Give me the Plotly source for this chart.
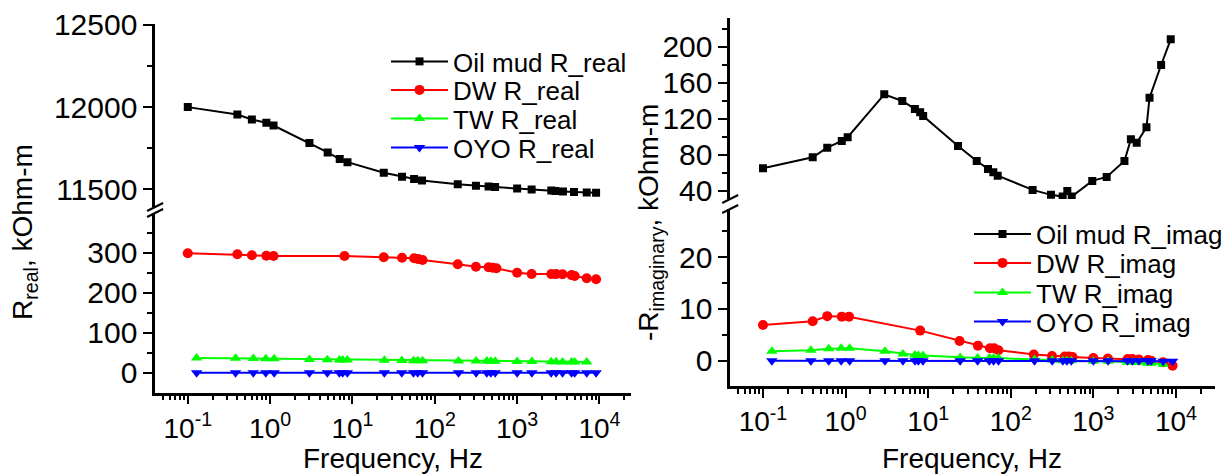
import plotly.graph_objects as go

W, H = 1226, 475


def px_x(x):
    return x / W


def px_y(y):
    return 1 - y / H


# ---------------- data ----------------
# Left panel: real part
f_oil_real = [0.1, 0.4, 0.6, 0.9, 1.1, 3, 5, 7, 8.7, 24, 40, 56, 70, 190, 316, 450, 540,
              1000, 1500, 2600, 2900, 3600, 4900, 7000, 9100]
r_oil_real = [12000, 11955, 11925, 11905, 11888, 11781, 11724, 11684, 11665, 11600, 11576,
              11562, 11553, 11531, 11521, 11517, 11513, 11505, 11498, 11492, 11489, 11486,
              11483, 11480, 11479]

f_dw = [0.1, 0.4, 0.6, 0.9, 1.1, 8, 24, 40, 56, 63, 71, 190, 316, 450, 505, 560,
        1000, 1500, 2600, 2970, 3560, 4580, 5000, 7000, 9100]
r_dw_real = [298.5, 296, 293.5, 292.5, 291.7, 291.7, 288.5, 287.5, 286, 284, 281.7, 271,
             265, 263.5, 262.5, 261, 250, 246.7, 246.5, 246.5, 246, 244, 241.7, 236, 233.5]

f_tw = [0.128, 0.38, 0.625, 0.885, 1.12, 3, 4.95, 6.93, 7.6, 8.66, 24.4, 39.7, 55, 62, 71,
        194, 318, 428, 479, 541, 1000, 1510, 2590, 2970, 3560, 4580, 5000, 7000]
r_tw_real = [37, 36, 35.5, 35, 35, 33, 32.5, 32, 32, 32, 31, 30.5, 30, 30, 30, 29.5, 29, 29,
             28.5, 28.5, 28, 28, 27.5, 27.5, 27, 27, 27, 27]

f_oyo = [0.128, 0.38, 0.625, 0.885, 1.12, 3, 4.95, 6.93, 7.6, 8.66, 24.4, 39.7, 55, 62, 71,
         194, 318, 428, 479, 541, 1000, 1510, 2590, 2970, 3560, 4580, 5000, 7000, 9100]
r_oyo_real = [0, 0, 0, 0, 0, 0, 0, 0, 0, 0, 0, 0, 0, 0, 0, 0, 0, 0, 0, 0, 0, 0, 0, 0, 0,
              0, 0, 0, 0]

# Right panel: imaginary part
f_oil_imag = [0.1, 0.4, 0.6, 0.9, 1.06, 2.94, 4.86, 6.9, 8, 8.7, 23, 38.7, 53, 61.5, 69.5,
              184, 307, 425, 484, 547, 970, 1450, 2380, 2850, 3350, 4400, 4790, 6620, 8650]
r_oil_imag = [65.2, 77.4, 88, 95.5, 99.6, 147.2, 139.8, 130.9, 127.2, 123.2, 89.9, 73.3,
              64.4, 60.8, 57, 41.2, 35.7, 33.8, 40.1, 33.8, 51.2, 55.6, 73.3, 97.3, 93.5,
              110.6, 143.5, 179.7, 208.2]
r_dw_imag = [6.9, 7.6, 8.6, 8.5, 8.5, 5.8, 3.8, 2.9, 2.4, 2.4, 2.0, 1.2, 0.9, 0.8, 0.8, 0.7,
             0.5, 0.4, 0.3, 0.3, 0.2, 0.1, 0.0, -0.3, -1.0]
r_tw_imag = [1.8, 2.0, 2.3, 2.4, 2.4, 1.8, 1.3, 1.1, 1.0, 1.0, 0.6, 0.5, 0.5, 0.5, 0.5, 0.2,
             0.1, 0.0, 0.0, 0.0, -0.1, -0.1, -0.3, -0.3, -0.3, -0.5, -0.5, -0.7]
r_oyo_imag = [0, 0, 0, 0, 0, 0, 0, 0, 0, 0, 0, 0, 0, 0, 0, 0, 0, 0, 0, 0, 0, 0, 0, 0, 0,
              0, 0, -0.1, -0.1]

names_real = ["Oil mud R_real", "DW R_real", "TW R_real", "OYO R_real"]
names_imag = ["Oil mud R_imag", "DW R_imag", "TW R_imag", "OYO R_imag"]

x_tickvals = [0.1, 1, 10, 100, 1000, 10000]
x_ticktext = ["10<sup>-1</sup>", "10<sup>0</sup>", "10<sup>1</sup>", "10<sup>2</sup>",
              "10<sup>3</sup>", "10<sup>4</sup>"]

# ---------------- figure ----------------
FONT = "Liberation Sans, Arial, sans-serif"
BLACK, RED, GREEN, BLUE = "#000000", "#FF0000", "#00FF00", "#0000FF"

fig = go.Figure()

# legend rows (px): one legend per entry so row spacing matches the original
LEG_L_X, LEG_R_X = 386, 969
LEG_L_ROWS = [61.5, 90, 118.5, 147.5]
LEG_R_ROWS = [234, 263, 292.5, 321.5]
legend_defs = {}


def add(fx, vals, name, color, symbol, size, xa, ya, legend, lx, ly):
    fig.add_trace(go.Scatter(
        x=fx, y=vals, name=name, mode="lines+markers",
        line=dict(color=color, width=2),
        marker=dict(symbol=symbol, size=size, color=color, line=dict(width=0)),
        xaxis=xa, yaxis=ya, legend=legend))
    legend_defs[legend] = dict(
        x=px_x(lx), y=px_y(ly), xanchor="left", yanchor="middle",
        font=dict(family=FONT, size=26, color="black"), itemwidth=57,
        bgcolor="rgba(0,0,0,0)", borderwidth=0)


add(f_oil_real, r_oil_real, names_real[0], BLACK, "square", 8, "x2", "y2", "legend", LEG_L_X, LEG_L_ROWS[0])
add(f_dw, r_dw_real, names_real[1], RED, "circle", 10, "x", "y", "legend2", LEG_L_X, LEG_L_ROWS[1])
add(f_tw, r_tw_real, names_real[2], GREEN, "triangle-up", 10, "x", "y", "legend3", LEG_L_X, LEG_L_ROWS[2])
add(f_oyo, r_oyo_real, names_real[3], BLUE, "triangle-down", 10, "x", "y", "legend4", LEG_L_X, LEG_L_ROWS[3])

add(f_oil_imag, r_oil_imag, names_imag[0], BLACK, "square", 8, "x4", "y4", "legend5", LEG_R_X, LEG_R_ROWS[0])
add(f_dw, r_dw_imag, names_imag[1], RED, "circle", 10, "x3", "y3", "legend6", LEG_R_X, LEG_R_ROWS[1])
add(f_tw, r_tw_imag, names_imag[2], GREEN, "triangle-up", 10, "x3", "y3", "legend7", LEG_R_X, LEG_R_ROWS[2])
add(f_oyo, r_oyo_imag, names_imag[3], BLUE, "triangle-down", 10, "x3", "y3", "legend8", LEG_R_X, LEG_R_ROWS[3])

tickfont = dict(family=FONT, size=30, color="black")
xtickfont = dict(family=FONT, size=28, color="black")
base = dict(showline=True, linecolor="black", linewidth=2.5, ticks="outside", ticklen=9,
            tickwidth=2, tickcolor="black", showgrid=False, zeroline=False,
            tickfont=tickfont, automargin=False)

minor_x = [m * 10 ** e for e in range(-2, 5) for m in range(2, 10)]

# geometry (px)
L_X0, L_X1 = 155.1, 630.6
R_X0, R_X1 = 730.2, 1214.5
L_UP = (24, 207)
L_LO = (213, 392.7)
R_UP = (18.3, 199)
R_LO = (209, 386)


def dom_y(top, bottom):
    return [px_y(bottom), px_y(top)]


def minor_y(vals):
    return dict(tickmode="array", tickvals=vals, ticks="outside", ticklen=5, tickwidth=2,
                tickcolor="black", showgrid=False)


minor_xd = dict(tickmode="array", tickvals=minor_x, ticks="outside", ticklen=5,
                tickwidth=1.5, tickcolor="black", showgrid=False)

fig.update_layout(
    width=W, height=H,
    margin=dict(l=0, r=0, t=0, b=0, autoexpand=False),
    paper_bgcolor="white", plot_bgcolor="white",
    font=dict(family=FONT, color="black"),
    showlegend=True,
    xaxis=dict(base, type="log", domain=[px_x(L_X0), px_x(L_X1)], range=[-1.397, 4.378],
               anchor="y", tickmode="array", tickvals=x_tickvals, ticktext=x_ticktext,
               tickfont=xtickfont, minor=minor_xd),
    yaxis=dict(base, domain=dom_y(*L_LO), range=[-50, 399.3], anchor="x",
               tickmode="array", tickvals=[0, 100, 200, 300],
               minor=minor_y([50, 150, 250, 350])),
    xaxis2=dict(type="log", domain=[px_x(L_X0), px_x(L_X1)], range=[-1.397, 4.378],
                anchor="y2", visible=False, automargin=False),
    yaxis2=dict(base, domain=dom_y(*L_UP), range=[11392, 12506], anchor="x2",
                tickmode="array", tickvals=[11500, 12000, 12500], tickformat="d",
                minor=minor_y([11750, 12250])),
    xaxis3=dict(base, type="log", domain=[px_x(R_X0), px_x(R_X1)], range=[-1.397, 4.467],
                anchor="y3", tickmode="array", tickvals=x_tickvals, ticktext=x_ticktext,
                tickfont=xtickfont, minor=minor_xd),
    yaxis3=dict(base, domain=dom_y(*R_LO), range=[-4.9, 29.3], anchor="x3",
                tickmode="array", tickvals=[0, 10, 20],
                minor=minor_y([5, 15, 25])),
    xaxis4=dict(type="log", domain=[px_x(R_X0), px_x(R_X1)], range=[-1.397, 4.467],
                anchor="y4", visible=False, automargin=False),
    yaxis4=dict(base, domain=dom_y(*R_UP), range=[31.1, 231.5], anchor="x4",
                tickmode="array", tickvals=[40, 80, 120, 160, 200],
                minor=minor_y([60, 100, 140, 180, 220])),
    **legend_defs,
)

# axis titles
ann = [
    dict(text="Frequency, Hz", x=px_x((L_X0 + L_X1) / 2), y=0, yanchor="bottom", size=28),
    dict(text="Frequency, Hz", x=px_x((R_X0 + R_X1) / 2), y=0, yanchor="bottom", size=28),
    dict(text="R<sub>real</sub>, kOhm-m", x=px_x(25), y=px_y(232), textangle=-90,
         yanchor="middle", size=28),
    dict(text="-R<sub>imaginary</sub>, kOhm-m", x=px_x(651), y=px_y(223), textangle=-90,
         yanchor="middle", size=28),
]
for a in ann:
    size = a.pop("size")
    fig.add_annotation(xref="paper", yref="paper", showarrow=False, xanchor="center",
                       borderpad=0, font=dict(family=FONT, size=size, color="black"), **a)


# axis-break marks
def slash(xc, yc):
    fig.add_shape(type="line", xref="paper", yref="paper",
                  x0=px_x(xc - 8), y0=px_y(yc + 4), x1=px_x(xc + 8), y1=px_y(yc - 4),
                  line=dict(color="black", width=2))


slash(L_X0, L_UP[1])
slash(L_X0, L_LO[0])
slash(R_X0, R_UP[1])
slash(R_X0, R_LO[0])

fig.write_html("out.html")
